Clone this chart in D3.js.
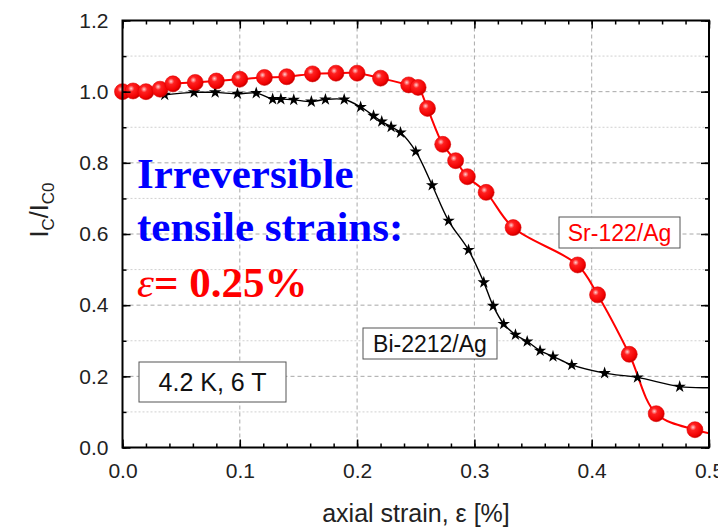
<!DOCTYPE html>
<html>
<head>
<meta charset="utf-8">
<script src="https://cdn.jsdelivr.net/npm/d3@7"></script>
<style>
  body { margin: 0; background: #fff; }
  svg { display: block; }
</style>
</head>
<body>
<svg id="chart"></svg>
<script>
// Sr-122/Ag (red circles)
var srStrain = [0.000, 0.009, 0.020, 0.032, 0.043, 0.062, 0.080, 0.100, 0.121, 0.140, 0.162, 0.182, 0.200,
                0.220, 0.244, 0.252, 0.260, 0.273, 0.284, 0.294, 0.310, 0.333, 0.388, 0.405, 0.432, 0.455, 0.488];
var srIc = [1.000, 1.002, 1.000, 1.007, 1.022, 1.026, 1.030, 1.035, 1.040, 1.042, 1.050, 1.052, 1.052,
            1.038, 1.019, 1.012, 0.953, 0.852, 0.806, 0.761, 0.717, 0.618, 0.513, 0.429, 0.262, 0.095, 0.050];
// Bi-2212/Ag (black stars)
var biStrain = [0.036, 0.061, 0.079, 0.098, 0.114, 0.128, 0.135, 0.146, 0.161, 0.173, 0.189, 0.203, 0.214,
                0.221, 0.229, 0.237, 0.250, 0.264, 0.278, 0.295, 0.308, 0.316, 0.325, 0.335, 0.345, 0.356,
                0.367, 0.383, 0.411, 0.439, 0.475];
var biIc = [0.991, 0.998, 0.998, 0.994, 0.996, 0.979, 0.979, 0.977, 0.972, 0.978, 0.978, 0.957, 0.932,
            0.916, 0.901, 0.885, 0.832, 0.737, 0.637, 0.555, 0.464, 0.398, 0.347, 0.317, 0.298, 0.272,
            0.256, 0.232, 0.209, 0.197, 0.171];
// where the fitted curves leave the frame
var srTail = [0.5, 0.040];
var biTail = [0.5, 0.168];

var xTicks = [0.0, 0.1, 0.2, 0.3, 0.4, 0.5];
var yTicks = [0.0, 0.2, 0.4, 0.6, 0.8, 1.0, 1.2];

var width = 718, height = 527;
var margin = {top: 20.5, right: 9, bottom: 79.5, left: 122.5};
var w = width - margin.left - margin.right;
var h = height - margin.top - margin.bottom;

var svg = d3.select("#chart").attr("width", width).attr("height", height);
var defs = svg.append("defs");

var grad = defs.append("radialGradient").attr("id", "ball")
    .attr("cx", "38%").attr("cy", "35%").attr("r", "65%");
grad.append("stop").attr("offset", "0%").attr("stop-color", "#ffd0d0");
grad.append("stop").attr("offset", "30%").attr("stop-color", "#ff2020");
grad.append("stop").attr("offset", "85%").attr("stop-color", "#f00000");
grad.append("stop").attr("offset", "100%").attr("stop-color", "#c00000");

defs.append("clipPath").attr("id", "plotclip")
    .append("rect").attr("width", w).attr("height", h);

var g = svg.append("g")
    .attr("transform", "translate(" + margin.left + "," + margin.top + ")");

var x = d3.scaleLinear().domain([0, 0.5]).range([0, w]);
var y = d3.scaleLinear().domain([0, 1.2]).range([h, 0]);

// grid: dashed majors, dotted minors on y
g.append("g").selectAll("line")
    .data(d3.range(0.1, 1.2, 0.2))
    .enter().append("line")
    .attr("x1", 0).attr("x2", w)
    .attr("y1", function (d) { return y(d); }).attr("y2", function (d) { return y(d); })
    .style("stroke", "#d0d0d0").style("stroke-dasharray", "2,2");

g.append("g").selectAll("line")
    .data(yTicks.slice(1, -1))
    .enter().append("line")
    .attr("x1", 0).attr("x2", w)
    .attr("y1", function (d) { return y(d); }).attr("y2", function (d) { return y(d); })
    .style("stroke", "#a8a8a8").style("stroke-dasharray", "4,3");

g.append("g").selectAll("line")
    .data(xTicks.slice(1, -1))
    .enter().append("line")
    .attr("y1", 0).attr("y2", h)
    .attr("x1", function (d) { return x(d); }).attr("x2", function (d) { return x(d); })
    .style("stroke", "#a8a8a8").style("stroke-dasharray", "4,3");

// curves
var line = d3.line()
    .x(function (d) { return x(d[0]); })
    .y(function (d) { return y(d[1]); })
    .curve(d3.curveCatmullRom.alpha(0.5));

var srPts = srStrain.map(function (s, i) { return [s, srIc[i]]; });
var biPts = biStrain.map(function (s, i) { return [s, biIc[i]]; });

var curves = g.append("g").attr("clip-path", "url(#plotclip)");
curves.append("path").datum(biPts.concat([biTail]))
    .attr("d", line).style("fill", "none").style("stroke", "#000").style("stroke-width", 1.4);
curves.append("path").datum(srPts.concat([srTail]))
    .attr("d", line).style("fill", "none").style("stroke", "#ff0000").style("stroke-width", 2);

var star = d3.symbol().type(d3.symbolStar).size(48);
g.append("g").selectAll("path")
    .data(biPts)
    .enter().append("path")
    .attr("d", star)
    .attr("transform", function (d) { return "translate(" + x(d[0]) + "," + y(d[1]) + ")"; })
    .style("fill", "#000");

g.append("g").selectAll("circle")
    .data(srPts)
    .enter().append("circle")
    .attr("cx", function (d) { return x(d[0]); })
    .attr("cy", function (d) { return y(d[1]); })
    .attr("r", 8)
    .style("fill", "url(#ball)")
    .style("stroke", "#e00000").style("stroke-width", 0.6);

// axes with inward ticks on all four sides
var fmt = d3.format(".1f");

function drawAxis(make, scale, major, minorStep, max, transform, labels) {
    var gm = g.append("g").attr("transform", transform)
        .call(make(scale).tickValues(d3.range(0, max + 1e-9, minorStep)).tickSize(-4).tickFormat(""));
    var gM = g.append("g").attr("transform", transform)
        .call(make(scale).tickValues(major).tickSize(-8).tickPadding(labels ? 14 : 0)
            .tickFormat(labels ? fmt : ""));
    [gm, gM].forEach(function (a) {
        a.select(".domain").remove();
        a.selectAll(".tick line").style("stroke", "#000").style("stroke-width", 1.5);
    });
    gM.selectAll("text").style("font-family", "Arial, 'Liberation Sans', sans-serif")
        .style("font-size", "21px").style("fill", "#222");
    return gM;
}

var xa = drawAxis(d3.axisBottom, x, xTicks, 0.02, 0.5, "translate(0," + h + ")", true);
xa.selectAll("text").attr("dy", "0.78em");
drawAxis(d3.axisTop, x, xTicks, 0.02, 0.5, "translate(0,0)", false);
drawAxis(d3.axisLeft, y, yTicks, 0.1, 1.2, "translate(0,0)", true);
drawAxis(d3.axisRight, y, yTicks, 0.1, 1.2, "translate(" + w + ",0)", false);

g.append("rect").attr("width", w).attr("height", h)
    .style("fill", "none").style("stroke", "#000").style("stroke-width", 2);

// axis titles
svg.append("text")
    .attr("x", 416).attr("y", 522)
    .attr("text-anchor", "middle")
    .style("font-family", "Arial, 'Liberation Sans', sans-serif").style("font-size", "25px").style("fill", "#222")
    .text("axial strain, \u03b5 [%]");

var yl = svg.append("text")
    .attr("transform", "translate(48,210) rotate(-90)")
    .attr("text-anchor", "middle")
    .style("font-family", "Arial, 'Liberation Sans', sans-serif").style("font-size", "25px").style("fill", "#222");
yl.append("tspan").text("I");
yl.append("tspan").attr("dy", 6).style("font-size", "17px").text("C");
yl.append("tspan").attr("dy", -6).text("/I");
yl.append("tspan").attr("dy", 6).style("font-size", "17px").text("C0");

// annotations
var serif = "'Liberation Serif', 'Times New Roman', serif";
svg.append("text").attr("x", 137).attr("y", 188)
    .style("font-family", serif).style("font-weight", "bold").style("font-size", "43px").style("fill", "#0000ff")
    .text("Irreversible");
svg.append("text").attr("x", 137).attr("y", 241)
    .style("font-family", serif).style("font-weight", "bold").style("font-size", "43px").style("fill", "#0000ff")
    .text("tensile strains:");
var eps = svg.append("text").attr("x", 137).attr("y", 297)
    .style("font-family", serif).style("font-weight", "bold").style("font-size", "43px").style("fill", "#ff0000");
eps.append("tspan").style("font-style", "italic").style("font-weight", "normal").text("\u03b5");
eps.append("tspan").text("= 0.25%");

function boxLabel(x0, y0, bw, bh, txt, color, size) {
    svg.append("rect").attr("x", x0).attr("y", y0).attr("width", bw).attr("height", bh)
        .style("fill", "#fff").style("stroke", "#555").style("stroke-width", 1);
    svg.append("text").attr("x", x0 + bw / 2).attr("y", y0 + bh / 2)
        .attr("text-anchor", "middle").attr("dy", "0.36em")
        .style("font-family", "Arial, 'Liberation Sans', sans-serif").style("font-size", size + "px")
        .style("fill", color).text(txt);
}
boxLabel(559, 217, 121, 31, "Sr-122/Ag", "#ff0000", 23);
boxLabel(363, 328, 134, 31, "Bi-2212/Ag", "#111", 23);
boxLabel(139, 362, 147, 40, "4.2 K, 6 T", "#111", 25);
</script>
</body>
</html>
